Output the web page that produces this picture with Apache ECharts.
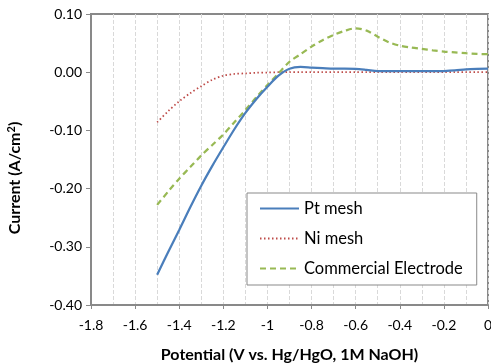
<!DOCTYPE html>
<html>
<head>
<meta charset="utf-8">
<script src="https://cdn.jsdelivr.net/npm/echarts@6/dist/echarts.min.js"></script>
<style>
  html, body { margin: 0; padding: 0; background: #fff; }
  #chart { width: 491px; height: 364px; }
</style>
</head>
<body>
<div id="chart"></div>
<script>
// 电位 (V vs. Hg/HgO)
var potential = [-1.5, -1.45, -1.4, -1.35, -1.3, -1.25, -1.2, -1.15, -1.1, -1.05,
    -1.0, -0.95, -0.9, -0.85, -0.8, -0.75, -0.7, -0.65, -0.6, -0.55,
    -0.5, -0.45, -0.4, -0.35, -0.3, -0.25, -0.2, -0.15, -0.1, -0.05, 0];
var ptMesh = [-0.348, -0.309, -0.271, -0.232, -0.195, -0.161, -0.129, -0.098, -0.070, -0.046,
    -0.025, -0.006, 0.006, 0.009, 0.008, 0.007, 0.006, 0.006, 0.0057, 0.004,
    0.002, 0.0018, 0.0017, 0.0017, 0.0017, 0.0018, 0.002, 0.003, 0.005, 0.0058, 0.006];
var niMesh = [-0.086, -0.067, -0.050, -0.036, -0.024, -0.013, -0.006, -0.003, -0.002, -0.001,
    -0.0005, 0, 0, 0, 0, 0, 0, 0, 0, 0,
    0, 0, 0, 0, 0, 0, 0, 0, 0, 0, 0];
var commercial = [-0.228, -0.205, -0.183, -0.163, -0.143, -0.125, -0.107, -0.086, -0.065, -0.043,
    -0.022, -0.002, 0.018, 0.031, 0.044, 0.055, 0.064, 0.071, 0.0755, 0.0715,
    0.061, 0.0515, 0.0457, 0.0425, 0.040, 0.0375, 0.0354, 0.034, 0.0326, 0.0315, 0.031];
var seriesNames = ['Pt mesh', 'Ni mesh', 'Commercial Electrode'];

function pairs(ys) {
    var out = [];
    for (var i = 0; i < potential.length; i++) {
        out.push([potential[i], ys[i]]);
    }
    return out;
}

var font = 'Lato';
var axisGray = '#898989';

var option = {
    animation: false,
    textStyle: { fontFamily: font },
    grid: {
        left: 91, right: 3, top: 14, bottom: 59,
        outerBoundsMode: 'none',
        show: true,
        borderColor: axisGray,
        borderWidth: 2
    },
    legend: {
        orient: 'vertical',
        left: 247,
        top: 193,
        data: seriesNames,
        backgroundColor: '#fff',
        borderColor: axisGray,
        borderWidth: 1,
        padding: [7, 14, 8, 12],
        itemWidth: 39,
        itemHeight: 14,
        itemGap: 13,
        itemStyle: { opacity: 0 },
        textStyle: { fontFamily: font, fontSize: 16.5, color: '#000' }
    },
    xAxis: {
        type: 'value',
        min: -1.8,
        max: 0,
        interval: 0.2,
        axisLine: { onZero: false, lineStyle: { color: axisGray, width: 2 } },
        axisTick: { show: true, length: 4, lineStyle: { color: axisGray } },
        axisLabel: { color: '#000', fontSize: 14, margin: 13 },
        splitLine: { show: true, lineStyle: { color: '#d9d9d9', type: 'dashed' } },
        minorTick: { show: false, splitNumber: 2 },
        minorSplitLine: { show: true, lineStyle: { color: '#d9d9d9', type: 'dashed' } },
        name: 'Potential (V vs. Hg/HgO, 1M NaOH)',
        nameLocation: 'middle',
        nameGap: 42,
        nameTextStyle: { color: '#000', fontWeight: 'bold', fontSize: 16 }
    },
    yAxis: {
        type: 'value',
        min: -0.4,
        max: 0.1,
        interval: 0.1,
        axisLine: { show: true, onZero: false, lineStyle: { color: axisGray, width: 2 } },
        axisTick: { show: true, length: 5, lineStyle: { color: axisGray } },
        axisLabel: {
            color: '#000', fontSize: 14, margin: 9,
            formatter: function (v) { return v.toFixed(2); }
        },
        splitLine: { show: false }
    },
    graphic: [{
        type: 'text',
        x: 15,
        y: 178,
        rotation: Math.PI / 2,
        style: {
            text: '{t|Current (A/cm}{s|2}{t|)}',
            align: 'center',
            verticalAlign: 'middle',
            rich: {
                t: { fontFamily: font, fontWeight: 'bold', fontSize: 16, fill: '#000' },
                s: { fontFamily: font, fontWeight: 'bold', fontSize: 11, fill: '#000', verticalAlign: 'top', padding: [0, 0, 7, 0] }
            }
        }
    }],
    series: [
        {
            name: seriesNames[0],
            type: 'line',
            data: pairs(ptMesh),
            symbol: 'none',
            smooth: 0.3,
            lineStyle: { color: '#4a7ebb', width: 2.25 },
            itemStyle: { color: '#4a7ebb' },
            z: 3
        },
        {
            name: seriesNames[1],
            type: 'line',
            data: pairs(niMesh),
            symbol: 'none',
            smooth: 0.3,
            lineStyle: { color: '#be4b48', width: 1.75, type: [1.5, 2.5] },
            itemStyle: { color: '#be4b48' },
            z: 2
        },
        {
            name: seriesNames[2],
            type: 'line',
            data: pairs(commercial),
            symbol: 'none',
            smooth: 0.3,
            lineStyle: { color: '#98b954', width: 2.25, type: [6, 4] },
            itemStyle: { color: '#98b954' },
            z: 2
        }
    ]
};

var chart = echarts.init(document.getElementById('chart'));
chart.setOption(option);
</script>
</body>
</html>
